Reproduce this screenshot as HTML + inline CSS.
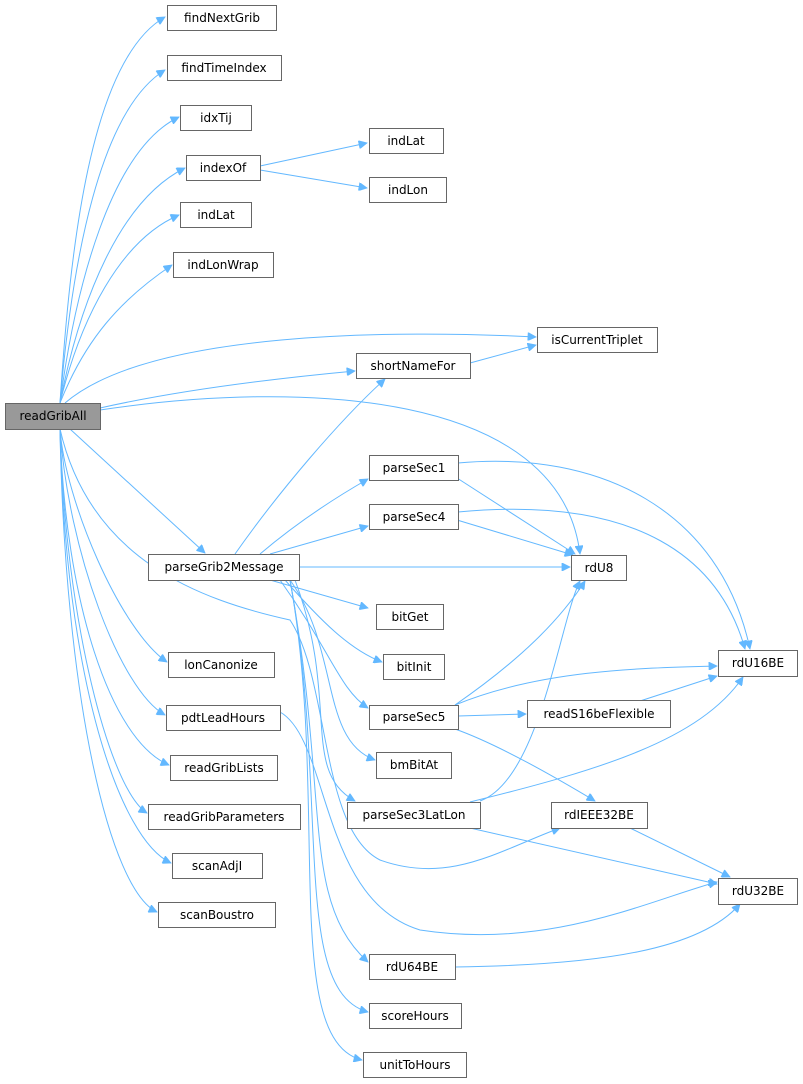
<!DOCTYPE html>
<html><head><meta charset="utf-8"><style>
html,body{margin:0;padding:0;background:#fff;}
svg{display:block}
text{font-family:"DejaVu Sans","Liberation Sans",sans-serif;font-size:12px;fill:#000;text-anchor:middle;dominant-baseline:central}
rect{fill:#fff;stroke:#666;stroke-width:1}
path{fill:none;stroke:#63b8ff;stroke-width:1}
</style></head><body>
<svg width="803" height="1084" viewBox="0 0 803 1084">
<defs><marker id="a" viewBox="0 0 10 10" refX="10" refY="5" markerWidth="10" markerHeight="8" orient="auto" markerUnits="userSpaceOnUse"><path d="M0,0L10,5L0,10z" style="fill:#63b8ff;stroke:#63b8ff"/></marker></defs>
<g marker-end="url(#a)">
<path d="M60,403C70,250 90,60 165,17"/>
<path d="M60,403C72,260 100,110 165,70"/>
<path d="M60,403C75,290 110,150 179,117"/>
<path d="M60,403C80,300 120,200 185,168"/>
<path d="M60,403C80,320 120,240 179,215"/>
<path d="M60,403C85,340 120,300 172,265"/>
<path d="M260,166L367,143"/>
<path d="M260,170L367,188"/>
<path d="M65,403C150,330 400,330 536,337"/>
<path d="M100,408C180,390 280,378 355,371"/>
<path d="M470,363L536,345"/>
<path d="M100,410C300,380 560,390 580,554"/>
<path d="M70,429L205,553"/>
<path d="M235,554C280,490 340,420 385,379"/>
<path d="M260,554C300,520 340,495 368,479"/>
<path d="M270,554L368,526"/>
<path d="M299,567L570,567"/>
<path d="M457,478L575,554"/>
<path d="M457,520L573,555"/>
<path d="M458,463C600,450 720,510 750,649"/>
<path d="M458,512C640,495 720,560 745,649"/>
<path d="M270,580L368,608"/>
<path d="M285,580C320,620 350,650 382,662"/>
<path d="M280,580C330,650 340,690 368,708"/>
<path d="M290,580C340,650 320,740 375,760"/>
<path d="M295,580C340,700 300,770 355,801"/>
<path d="M290,580C330,800 300,900 368,962"/>
<path d="M290,580C330,800 290,990 368,1012"/>
<path d="M290,580C330,800 280,1040 362,1060"/>
<path d="M458,716L526,714"/>
<path d="M455,705C520,660 560,620 585,581"/>
<path d="M455,705C540,670 640,668 717,666"/>
<path d="M640,701L717,676"/>
<path d="M455,729C500,745 560,780 595,801"/>
<path d="M480,801C540,780 560,620 580,581"/>
<path d="M470,802C600,770 700,740 743,677"/>
<path d="M470,828L717,884"/>
<path d="M630,828L730,877"/>
<path d="M455,967C600,965 700,950 740,904"/>
<path d="M60,429C65,500 120,630 167,662"/>
<path d="M60,429C68,550 120,690 165,715"/>
<path d="M60,429C65,600 110,740 169,765"/>
<path d="M60,429C65,620 110,790 147,813"/>
<path d="M60,429C65,680 120,840 171,863"/>
<path d="M60,429C65,700 110,890 157,912"/>
<path d="M60,429C90,560 200,600 290,620C330,680 320,830 380,860C450,885 500,850 560,828"/>
<path d="M280,712C330,740 320,900 420,930C550,950 650,900 717,882"/>
</g>
<g>
<rect x="167.5" y="5.5" width="109" height="25"/><text x="222" y="18">findNextGrib</text>
<rect x="167.5" y="55.5" width="114" height="25"/><text x="224" y="68">findTimeIndex</text>
<rect x="180.5" y="105.5" width="71" height="25"/><text x="216" y="118">idxTij</text>
<rect x="186.5" y="155.5" width="74" height="25"/><text x="223" y="168">indexOf</text>
<rect x="369.5" y="128.5" width="74" height="25"/><text x="406" y="141">indLat</text>
<rect x="369.5" y="177.5" width="77" height="25"/><text x="408" y="190">indLon</text>
<rect x="180.5" y="202.5" width="71" height="25"/><text x="216" y="215">indLat</text>
<rect x="173.5" y="252.5" width="100" height="25"/><text x="223" y="265">indLonWrap</text>
<rect x="537.5" y="327.5" width="120" height="25"/><text x="597" y="340">isCurrentTriplet</text>
<rect x="356.5" y="353.5" width="114" height="25"/><text x="413" y="366">shortNameFor</text>
<rect x="5.5" y="403.5" width="95" height="26" style="fill:#999"/><text x="53" y="416">readGribAll</text>
<rect x="369.5" y="455.5" width="89" height="25"/><text x="414" y="468">parseSec1</text>
<rect x="369.5" y="504.5" width="89" height="25"/><text x="414" y="517">parseSec4</text>
<rect x="148.5" y="554.5" width="151" height="26"/><text x="224" y="567">parseGrib2Message</text>
<rect x="571.5" y="555.5" width="55" height="25"/><text x="599" y="568">rdU8</text>
<rect x="376.5" y="604.5" width="67" height="25"/><text x="410" y="617">bitGet</text>
<rect x="383.5" y="654.5" width="61" height="25"/><text x="414" y="667">bitInit</text>
<rect x="718.5" y="650.5" width="79" height="26"/><text x="758" y="663">rdU16BE</text>
<rect x="168.5" y="652.5" width="106" height="25"/><text x="221" y="665">lonCanonize</text>
<rect x="166.5" y="705.5" width="114" height="25"/><text x="223" y="718">pdtLeadHours</text>
<rect x="369.5" y="705.5" width="89" height="24"/><text x="414" y="717">parseSec5</text>
<rect x="527.5" y="700.5" width="143" height="27"/><text x="599" y="714">readS16beFlexible</text>
<rect x="170.5" y="755.5" width="107" height="25"/><text x="224" y="768">readGribLists</text>
<rect x="376.5" y="752.5" width="75" height="26"/><text x="414" y="765">bmBitAt</text>
<rect x="347.5" y="802.5" width="133" height="26"/><text x="414" y="815">parseSec3LatLon</text>
<rect x="551.5" y="802.5" width="96" height="26"/><text x="599" y="815">rdIEEE32BE</text>
<rect x="148.5" y="804.5" width="152" height="25"/><text x="224" y="817">readGribParameters</text>
<rect x="172.5" y="853.5" width="90" height="25"/><text x="217" y="866">scanAdjI</text>
<rect x="718.5" y="878.5" width="79" height="26"/><text x="758" y="891">rdU32BE</text>
<rect x="158.5" y="902.5" width="117" height="25"/><text x="217" y="915">scanBoustro</text>
<rect x="369.5" y="954.5" width="86" height="25"/><text x="412" y="967">rdU64BE</text>
<rect x="369.5" y="1003.5" width="92" height="25"/><text x="415" y="1016">scoreHours</text>
<rect x="363.5" y="1052.5" width="103" height="25"/><text x="415" y="1065">unitToHours</text>
</g>
</svg>
</body></html>
